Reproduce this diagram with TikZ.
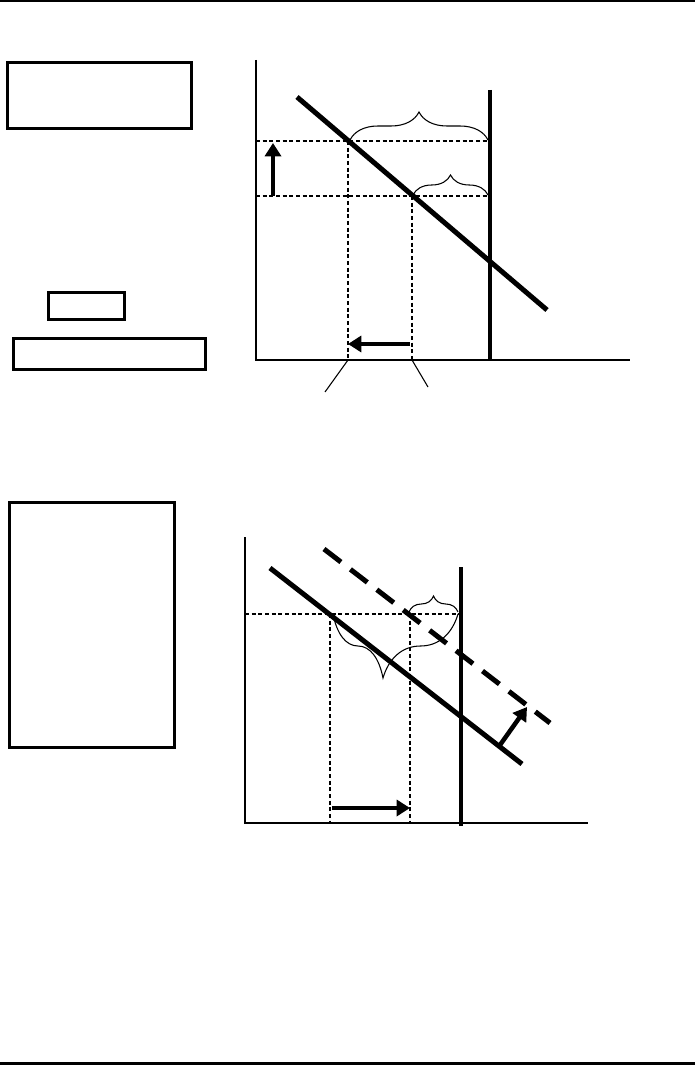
\documentclass[tikz,border=0pt]{standalone}
\usepackage{tikz}
\usetikzlibrary{arrows.meta,decorations.pathreplacing}

\tikzset{
  frame/.style={line width=2.25pt},
  axis/.style={line width=1.5pt},
  curve/.style={line width=3.75pt},
  limitline/.style={line width=3pt},
  guide/.style={line width=1.2pt,dash pattern=on 3pt off 2pt},
  shiftarrow/.style={line width=3.4pt,-{Triangle[length=10pt,width=12pt]}},
  gap/.style={decorate,decoration={brace,amplitude=#1},line width=0.8pt},
}

\begin{document}
\begin{tikzpicture}[x=0.75pt,y=-0.75pt]
  \useasboundingbox (0,0) rectangle (695,1066);
  % page rules
  \draw[line width=1.6pt] (0,1) -- (695,1);
  \draw[line width=2.2pt] (0,1063.5) -- (695,1063.5);

  % upper panel: boxes
  \draw[frame] (7,63) rectangle (191,129);
  \draw[frame] (48,292) rectangle (124,319);
  \draw[frame] (13,338) rectangle (205,369);

  % upper panel: graph
  \draw[axis] (256,60) -- (256,360) -- (630,360);
  \draw[limitline] (490,90) -- (490,361);
  \draw[curve] (297,97) -- (547,310);
  \draw[guide] (256,141) -- (490,141);
  \draw[guide] (256,196) -- (490,196);
  \draw[guide] (348,141) -- (348,360);
  \draw[guide] (412,196) -- (412,360);
  \draw[line width=0.8pt] (348,360) -- (325,392);
  \draw[line width=0.8pt] (412,360) -- (428,387);
  \draw[shiftarrow] (273,196) -- (273,143);
  \draw[shiftarrow] (410,344) -- (348,344);
  \draw[gap=21pt] (350,140) -- (488,140);
  \draw[gap=15pt] (413,195) -- (488,195);

  % lower panel: box
  \draw[frame] (9,502) rectangle (174,747);

  % lower panel: graph
  \draw[axis] (245,537) -- (245,823) -- (588,823);
  \draw[limitline] (461,567) -- (461,826);
  \draw[curve] (270,568) -- (522,764);
  \draw[curve,dash pattern=on 16pt off 9pt] (324,549) -- (550,723);
  \draw[guide] (245,614) -- (461,614);
  \draw[guide] (330,614) -- (330,823);
  \draw[guide] (410,614) -- (410,823);
  \draw[shiftarrow] (332,808) -- (410,808);
  \draw[shiftarrow] (500,745) -- (527,707);
  \draw[gap=12pt] (409,612) -- (458,612);
  \draw[decorate,decoration={brace,amplitude=48pt,aspect=0.4,mirror},line width=0.8pt] (333,614) -- (458,614);
\end{tikzpicture}
\end{document}
